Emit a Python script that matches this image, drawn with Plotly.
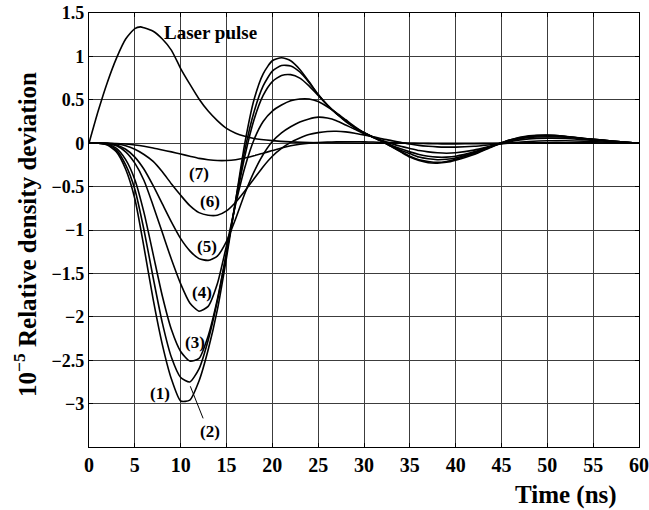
import plotly.graph_objects as go

# Time grid (ns) shared by the density-deviation curves
t = [0, 1, 2, 3, 4, 5, 6, 7, 8, 9, 10, 11, 12, 13, 14, 15, 16, 17, 18, 19, 20,
     21, 22, 23, 24, 25, 26, 27, 28, 29, 30, 31, 32, 33, 34, 35, 36, 37, 38, 39,
     40, 42, 44, 46, 48, 50, 52, 54, 56, 58, 60]

# Relative density deviation (units of 1e-5), curves (1)..(7)
c1 = [0, 0, -0.02, -0.1, -0.3, -0.64, -1.2, -1.8, -2.32, -2.72, -2.97, -2.96, -2.74, -2.38, -1.92, -1.32,
      -0.66, 0.0, 0.5, 0.8, 0.95, 0.985, 0.95, 0.85, 0.71, 0.56, 0.44, 0.34, 0.26, 0.18, 0.12, 0.07, 0.02,
      -0.04, -0.1, -0.16, -0.2, -0.225, -0.23, -0.22, -0.195, -0.13, -0.04, 0.04, 0.085, 0.095, 0.08, 0.055,
      0.035, 0.015, 0.0]
c2 = [0, 0, -0.015, -0.08, -0.25, -0.53, -1.0, -1.55, -2.07, -2.47, -2.7, -2.75, -2.6, -2.27, -1.82, -1.27,
      -0.66, -0.08, 0.36, 0.66, 0.83, 0.895, 0.89, 0.82, 0.7, 0.56, 0.44, 0.34, 0.26, 0.18, 0.12, 0.07, 0.02,
      -0.04, -0.095, -0.15, -0.19, -0.21, -0.22, -0.21, -0.185, -0.12, -0.035, 0.04, 0.08, 0.09, 0.078, 0.055,
      0.035, 0.015, 0]
c3 = [0, 0, -0.01, -0.06, -0.19, -0.42, -0.8, -1.28, -1.76, -2.15, -2.4, -2.51, -2.48, -2.22, -1.8, -1.26,
      -0.68, -0.15, 0.27, 0.55, 0.71, 0.78, 0.79, 0.75, 0.66, 0.55, 0.44, 0.34, 0.25, 0.18, 0.12, 0.07, 0.025,
      -0.03, -0.08, -0.12, -0.16, -0.18, -0.19, -0.185, -0.17, -0.11, -0.03, 0.035, 0.075, 0.085, 0.075, 0.055,
      0.035, 0.015, 0]
c4 = [0, 0, -0.005, -0.03, -0.1, -0.23, -0.43, -0.72, -1.03, -1.34, -1.62, -1.84, -1.935, -1.88, -1.62, -1.18,
      -0.7, -0.28, 0.04, 0.25, 0.37, 0.44, 0.49, 0.51, 0.51, 0.48, 0.42, 0.35, 0.27, 0.19, 0.12, 0.065, 0.02,
      -0.025, -0.065, -0.1, -0.13, -0.15, -0.16, -0.16, -0.15, -0.1, -0.03, 0.03, 0.065, 0.075, 0.068, 0.05,
      0.03, 0.015, 0]
c5 = [0, 0, 0, -0.02, -0.07, -0.16, -0.3, -0.49, -0.7, -0.91, -1.1, -1.24, -1.33, -1.35, -1.3, -1.13,
      -0.87, -0.58, -0.33, -0.13, 0.02, 0.12, 0.19, 0.245, 0.28, 0.3, 0.29, 0.26, 0.21, 0.16, 0.11, 0.07, 0.03,
      -0.005, -0.035, -0.06, -0.085, -0.1, -0.11, -0.115, -0.11, -0.08, -0.03, 0.02, 0.05, 0.058, 0.055, 0.04,
      0.025, 0.01, 0]
c6 = [0, 0, 0, -0.01, -0.03, -0.07, -0.13, -0.21, -0.33, -0.47, -0.6, -0.72, -0.8, -0.83, -0.83, -0.78,
      -0.68, -0.55, -0.41, -0.27, -0.15, -0.06, 0.01, 0.06, 0.1, 0.122, 0.135, 0.137, 0.13, 0.115, 0.095, 0.075,
      0.05, 0.03, 0.01, -0.01, -0.025, -0.035, -0.042, -0.045, -0.045, -0.035, -0.015, 0.005, 0.02, 0.028,
      0.028, 0.022, 0.014, 0.006, 0]
c7 = [0, 0, 0, -0.003, -0.01, -0.02, -0.035, -0.055, -0.078, -0.1, -0.125, -0.15, -0.175, -0.19, -0.2, -0.2,
      -0.19, -0.17, -0.145, -0.115, -0.085, -0.055, -0.03, -0.012, 0.0, 0.008, 0.013, 0.016, 0.017, 0.017,
      0.015, 0.013, 0.01, 0.007, 0.003, 0.0, -0.003, -0.005, -0.007, -0.008, -0.008, -0.006, -0.003, 0.0,
      0.004, 0.006, 0.006, 0.005, 0.003, 0.001, 0]
curves = [c1, c2, c3, c4, c5, c6, c7]

# Laser pulse profile (arbitrary units on the same axis)
laser_t = [0, 1, 2, 3, 4, 5, 5.6, 6, 7, 8, 9, 10, 11, 12, 13, 14, 15, 16, 17, 18, 20, 22, 25, 30, 60]
laser_v = [0, 0.37, 0.7, 0.98, 1.2, 1.32, 1.34, 1.33, 1.29, 1.2, 1.07, 0.86, 0.68, 0.51, 0.37, 0.26, 0.17,
           0.115, 0.08, 0.055, 0.03, 0.015, 0.005, 0, 0]

# Curve labels and their anchor points (time, deviation)
label_text = ["(1)", "(2)", "(3)", "(4)", "(5)", "(6)", "(7)"]
label_t = [7.7, 13.2, 11.6, 12.3, 12.85, 13.2, 11.95]
label_v = [-2.88, -3.32, -2.30, -1.72, -1.19, -0.67, -0.345]

# Leader line joining label (2) to its curve
leader_t = [12.45, 11.05]
leader_v = [-3.17, -2.8]

x_ticks = list(range(0, 61, 5))
y_ticks = [-3, -2.5, -2, -1.5, -1, -0.5, 0, 0.5, 1, 1.5]
y_tick_text = ["\u22123", "\u22122.5", "\u22122", "\u22121.5", "\u22121", "\u22120.5", "0", "0.5", "1", "1.5"]

SERIF = "Liberation Serif, Times New Roman, serif"
LINE = dict(color="black", width=1.6, shape="spline", smoothing=0.6)


def bold(size):
    return dict(family=SERIF, size=size, color="black", weight="bold")


fig = go.Figure()
fig.add_trace(go.Scatter(x=laser_t, y=laser_v, mode="lines", line=LINE, name="Laser pulse"))
for name, c in zip(label_text, curves):
    fig.add_trace(go.Scatter(x=t, y=c, mode="lines", line=LINE, name=name))
fig.add_trace(go.Scatter(x=leader_t, y=leader_v, mode="lines", line=dict(color="black", width=1),
                         hoverinfo="skip"))

annotations = []
for txt, xx, yy in zip(label_text, label_t, label_v):
    annotations.append(dict(x=xx, y=yy, xref="x", yref="y", text=txt, showarrow=False, font=bold(17)))
annotations.append(dict(x=13.3, y=1.28, xref="x", yref="y", text="Laser pulse", showarrow=False,
                        font=bold(19)))
annotations.append(dict(x=0.868, y=-0.11, xref="paper", yref="paper", text="Time (ns)", showarrow=False,
                        xanchor="center", yanchor="middle", font=bold(25)))
annotations.append(dict(x=-0.116, y=0.489, xref="paper", yref="paper",
                        text="10<sup>\u22125</sup> Relative density deviation", showarrow=False,
                        textangle=-90, xanchor="center", yanchor="middle", font=bold(25)))

fig.update_layout(
    width=649, height=510,
    margin=dict(l=89, r=10, t=13, b=63, autoexpand=False),
    paper_bgcolor="white", plot_bgcolor="white",
    showlegend=False,
    annotations=annotations,
    font=dict(family=SERIF, color="black"),
)
fig.update_xaxes(range=[0, 60], tickvals=x_ticks, ticks="inside", ticklen=4, tickcolor="black",
                 showline=True, linecolor="black", linewidth=1.2, mirror="ticks", automargin=False,
                 showgrid=True, gridcolor="#3c3c3c", gridwidth=1, zeroline=False,
                 tickfont=bold(20))
fig.update_yaxes(range=[-3.5, 1.5], tickvals=y_ticks, ticktext=y_tick_text, ticks="inside", ticklen=4,
                 tickcolor="black", showline=True, linecolor="black", linewidth=1.2, mirror="ticks",
                 automargin=False, showgrid=True, gridcolor="#3c3c3c", gridwidth=1, zeroline=False,
                 tickfont=bold(18))

fig.write_html("out.html")
